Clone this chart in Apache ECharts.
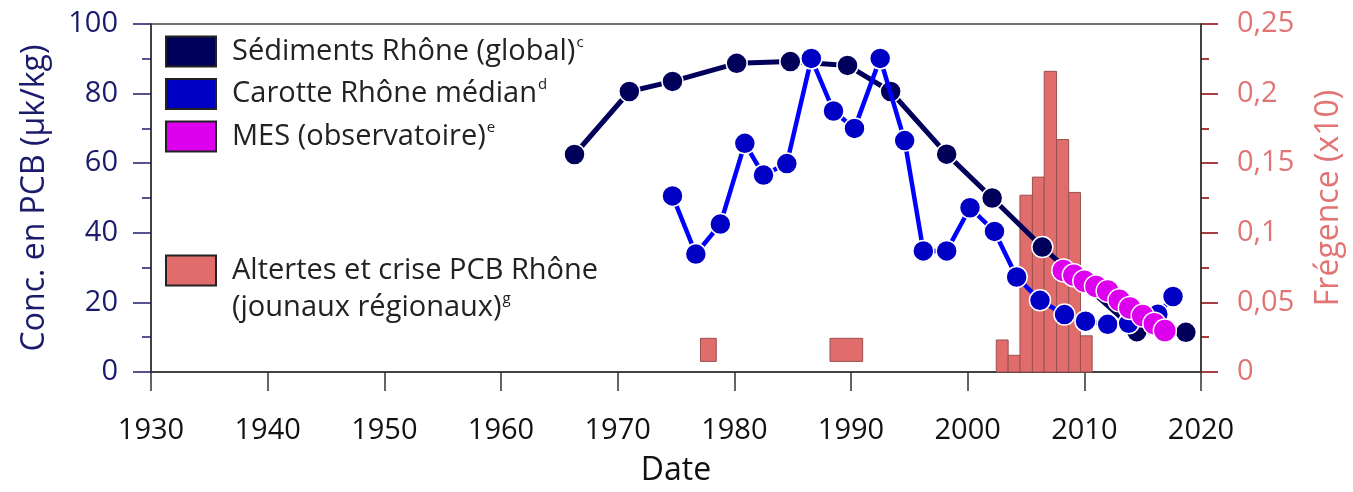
<!DOCTYPE html>
<html>
<head>
<meta charset="utf-8">
<script src="https://cdn.jsdelivr.net/npm/echarts@6/dist/echarts.min.js"></script>
<style>
html,body{margin:0;padding:0;background:#fff;}
#chart{width:1353px;height:492px;}
</style>
</head>
<body>
<div id="chart"></div>
<script>
// ---- data ----
const xTicks = [1930, 1940, 1950, 1960, 1970, 1980, 1990, 2000, 2010, 2020];
const leftTicks = [0, 20, 40, 60, 80, 100];
const rightTicks = [0, 0.05, 0.1, 0.15, 0.2, 0.25];

const navyYears  = [1966.3, 1971.0, 1974.7, 1980.2, 1984.8, 1989.7, 1993.4, 1998.2, 2002.1, 2006.4, 2014.5, 2018.7];
const navyValues = [62.5, 80.6, 83.5, 88.7, 89.2, 88.1, 80.6, 62.6, 50.0, 35.9, 11.6, 11.4];

const blueYears  = [1974.7, 1976.7, 1978.8, 1980.9, 1982.5, 1984.5, 1986.6, 1988.5, 1990.3, 1992.5, 1994.6, 1996.2, 1998.2, 2000.2, 2002.3, 2004.2, 2006.2, 2008.3, 2010.1, 2012.0, 2013.8, 2016.3, 2017.6];
const blueValues = [50.6, 33.9, 42.5, 65.7, 56.6, 59.9, 90.1, 75.0, 70.0, 90.1, 66.5, 34.8, 34.8, 47.2, 40.4, 27.3, 20.6, 16.5, 14.6, 13.7, 14.0, 16.6, 21.7];

const mesYears  = [2008.2, 2009.1, 2010.0, 2011.0, 2012.0, 2013.0, 2013.9, 2015.0, 2016.0, 2016.9];
const mesValues = [29.2, 27.8, 26.1, 24.6, 23.3, 20.6, 18.4, 16.2, 13.9, 11.9];

// histogram of press alerts (right axis, frequency x10)
const histEdges  = [2002.45, 2003.47, 2004.48, 2005.55, 2006.56, 2007.62, 2008.66, 2009.67, 2010.67];
const histValues = [0.023, 0.012, 0.127, 0.140, 0.216, 0.167, 0.129, 0.026];

// isolated early alerts (floating boxes)
const eventStart = [1977.1, 1988.2];
const eventEnd   = [1978.45, 1991.0];
const eventLow   = [0.0076, 0.0076];
const eventHigh  = [0.0242, 0.0242];

const names = {
  navy: 'Sédiments Rhône (global)',
  blue: 'Carotte Rhône médian',
  mes: 'MES (observatoire)',
  hist: 'Altertes et crise PCB Rhône (jounaux régionaux)'
};
const sup = {};
sup[names.navy] = 'c'; sup[names.blue] = 'd'; sup[names.mes] = 'e'; sup[names.hist] = 'g';

// ---- colours ----
const NAVY = '#00005a', BLUE_LINE = '#0000ff', BLUE_PT = '#0000c4', MAG = '#dd00ee';
const SALMON = '#e06c6c', SALMON_TXT = '#e27474', AXIS_NAVY = '#1b1b6b';

const FONT = '"Open Sans", "Noto Sans", sans-serif';

const histData = histValues.map((v, i) => [histEdges[i], histEdges[i + 1], v]);
const eventData = eventStart.map((s, i) => [s, eventEnd[i], eventLow[i], eventHigh[i]]);

function rectItem(params, api, x0, x1, y0, y1) {
  const p0 = api.coord([x0, y1]);
  const p1 = api.coord([x1, y0]);
  return {
    type: 'rect',
    shape: { x: p0[0], y: p0[1], width: p1[0] - p0[0], height: p1[1] - p0[1] },
    style: { fill: SALMON, stroke: '#9a5050', lineWidth: 1 }
  };
}

const richStyles = {
  t: { fontSize: 29, fontFamily: FONT, color: '#222', lineHeight: 37 },
  s: { fontSize: 15, fontFamily: FONT, color: '#222', lineHeight: 37, verticalAlign: 'top', padding: [2, 0, 0, 1] }
};

const chart = echarts.init(document.getElementById('chart'), null, { renderer: 'canvas' });
chart.setOption({
  backgroundColor: '#fff',
  animation: false,
  textStyle: { fontFamily: FONT },
  grid: { left: 151, right: 148, top: 24, bottom: 117, show: true, borderColor: '#444', borderWidth: 1.5, containLabel: false },
  legend: [
    {
      data: [names.navy, names.blue, names.mes],
      orient: 'vertical',
      left: 160, top: 28,
      itemWidth: 50, itemHeight: 30, itemGap: 8,
      icon: 'rect',
      itemStyle: { borderColor: '#222', borderWidth: 2 },
      textStyle: { padding: [0, 0, 0, 11], rich: richStyles },
      formatter: n => '{t|' + n + '}{s|' + sup[n] + '}'
    },
    {
      data: [names.hist],
      orient: 'vertical',
      left: 160, top: 214,
      itemWidth: 50, itemHeight: 30,
      icon: 'rect',
      itemStyle: { borderColor: '#222', borderWidth: 2 },
      textStyle: { padding: [0, 0, 0, 11], rich: richStyles },
      formatter: () => '{t|\u200b}\n{t|Altertes et crise PCB Rhône}\n{t|(jounaux régionaux)}{s|g}'
    }
  ],
  xAxis: {
    type: 'value', min: 1930, max: 2020, interval: 10,
    name: 'Date', nameLocation: 'middle', nameGap: 83,
    nameTextStyle: { fontSize: 32, color: '#111', fontFamily: FONT },
    axisLine: { show: true, lineStyle: { color: '#333', width: 1.5 } },
    axisTick: { show: true, length: 19, lineStyle: { color: '#333', width: 1.5 } },
    axisLabel: { fontSize: 29, color: '#111', margin: 44, fontFamily: FONT, formatter: v => String(v) },
    splitLine: { show: false }
  },
  yAxis: [
    {
      type: 'value', min: 0, max: 100, interval: 20, position: 'left',
      name: 'Conc. en PCB (µk/kg)', nameLocation: 'middle', nameGap: 100, nameRotate: 90,
      nameTextStyle: { fontSize: 32, color: AXIS_NAVY, fontFamily: FONT },
      axisLine: { show: true, lineStyle: { color: '#333', width: 1.5 } },
      axisTick: { show: true, inside: false, length: 18, lineStyle: { color: AXIS_NAVY, width: 1.5 } },
      minorTick: { show: true, splitNumber: 2, length: 9, lineStyle: { color: AXIS_NAVY, width: 1.5 } },
      axisLabel: { fontSize: 29, color: AXIS_NAVY, margin: 33, fontFamily: FONT },
      splitLine: { show: false }
    },
    {
      type: 'value', min: 0, max: 0.25, interval: 0.05, position: 'right',
      name: 'Frégence (x10)', nameLocation: 'middle', nameGap: 112, nameRotate: 90,
      nameTextStyle: { fontSize: 32, color: SALMON_TXT, fontFamily: FONT },
      axisLine: { show: true, lineStyle: { color: '#333', width: 1.5 } },
      axisTick: { show: true, inside: false, length: 17, lineStyle: { color: '#8b0000', width: 1.5 } },
      minorTick: { show: true, splitNumber: 2, length: 8, lineStyle: { color: '#8b0000', width: 1.5 } },
      axisLabel: { fontSize: 29, color: SALMON_TXT, margin: 36, fontFamily: FONT,
        formatter: v => String(Number(v.toFixed(2))).replace('.', ',') },
      splitLine: { show: false }
    }
  ],
  series: [
    {
      name: names.hist, type: 'custom', yAxisIndex: 1, z: 1,
      itemStyle: { color: SALMON },
      data: histData,
      encode: { x: [0, 1], y: 2 },
      renderItem: (params, api) => rectItem(params, api, api.value(0), api.value(1), 0, api.value(2))
    },
    {
      name: names.hist, type: 'custom', yAxisIndex: 1, z: 1,
      itemStyle: { color: SALMON },
      data: eventData,
      encode: { x: [0, 1], y: [2, 3] },
      renderItem: (params, api) => rectItem(params, api, api.value(0), api.value(1), api.value(2), api.value(3))
    },
    {
      name: names.navy, type: 'line', z: 3,
      data: navyYears.map((y, i) => [y, navyValues[i]]),
      symbol: 'circle', symbolSize: 21,
      lineStyle: { color: NAVY, width: 5 },
      itemStyle: { color: NAVY, borderColor: '#fff', borderWidth: 1.5 }
    },
    {
      name: names.blue, type: 'line', z: 4,
      data: blueYears.map((y, i) => [y, blueValues[i]]),
      symbol: 'circle', symbolSize: 21,
      lineStyle: { color: BLUE_LINE, width: 4.5 },
      itemStyle: { color: BLUE_PT, borderColor: '#fff', borderWidth: 1.5 }
    },
    {
      name: names.mes, type: 'scatter', z: 5,
      data: mesYears.map((y, i) => [y, mesValues[i]]),
      symbol: 'circle', symbolSize: 23,
      itemStyle: { color: MAG, borderColor: '#fff', borderWidth: 1.5, opacity: 1 }
    }
  ]
});
</script>
</body>
</html>
